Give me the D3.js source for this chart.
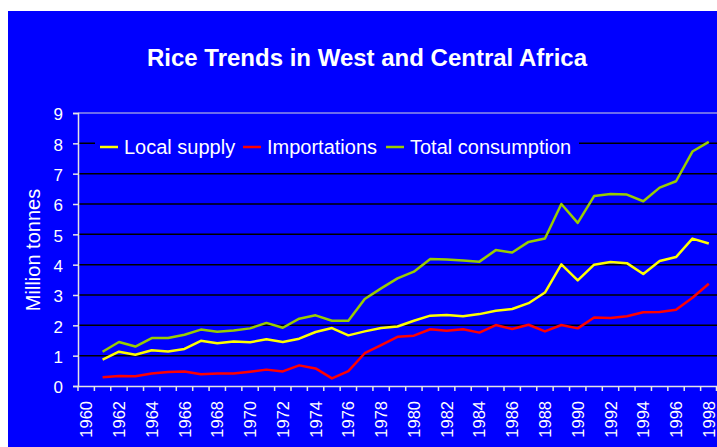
<!DOCTYPE html>
<html>
<head>
<meta charset="utf-8">
<script src="https://cdn.jsdelivr.net/npm/d3@7"></script>
<style>
  body { margin: 0; background: #fff; }
  svg { display: block; font-family: Arial, "Liberation Sans", sans-serif; }
</style>
</head>
<body>
<div id="chart"></div>
<script>
// categories on the x axis (1960 has no data, only a slot)
var categories = d3.range(1960, 1999);
var years = d3.range(1961, 1999);

var localSupply = [0.87, 1.13, 1.03, 1.18, 1.14, 1.22, 1.49, 1.41, 1.47, 1.44,
  1.54, 1.45, 1.56, 1.78, 1.91, 1.67, 1.80, 1.91, 1.96, 2.15,
  2.32, 2.34, 2.30, 2.37, 2.48, 2.54, 2.73, 3.08, 4.01, 3.48,
  4.00, 4.09, 4.05, 3.69, 4.12, 4.25, 4.86, 4.70];

var importations = [0.29, 0.33, 0.32, 0.41, 0.46, 0.48, 0.39, 0.41, 0.41, 0.47,
  0.54, 0.48, 0.68, 0.58, 0.25, 0.49, 1.08, 1.35, 1.62, 1.66,
  1.87, 1.82, 1.87, 1.76, 2.01, 1.88, 2.02, 1.80, 2.01, 1.90,
  2.26, 2.24, 2.30, 2.43, 2.44, 2.51, 2.91, 3.37];

var totalConsumption = [1.13, 1.45, 1.30, 1.58, 1.58, 1.69, 1.86, 1.79, 1.83, 1.90,
  2.08, 1.92, 2.22, 2.33, 2.15, 2.15, 2.87, 3.22, 3.55, 3.77,
  4.19, 4.17, 4.14, 4.10, 4.48, 4.40, 4.75, 4.86, 6.00, 5.38,
  6.26, 6.33, 6.31, 6.09, 6.54, 6.75, 7.73, 8.05];

var yTicks = [0, 1, 2, 3, 4, 5, 6, 7, 8, 9];
var xLabels = categories.filter(function(d) { return d % 2 === 0; });

var series = [
  {name: "Local supply", values: localSupply, color: "#ffff00"},
  {name: "Importations", values: importations, color: "#ff0000"},
  {name: "Total consumption", values: totalConsumption, color: "#99cc00"}
];

(function() {
var width = 717,
  height = 447;

var svg = d3.select("#chart")
  .append("svg")
  .attr("width", width)
  .attr("height", height)

svg.append("rect")
  .attr("x", 8)
  .attr("y", 11)
  .attr("width", width - 8)
  .attr("height", height - 11)
  .attr("fill", "#0000ff")

var plotLeft = 78, plotRight = 717, plotTop = 113, plotBottom = 386;

var x = d3.scaleBand().domain(categories).range([plotLeft, plotRight]).padding(0)
var y = d3.scaleLinear().domain([0, 9]).range([plotBottom, plotTop])

// title
svg.append("text")
  .attr("x", 367)
  .attr("y", 66)
  .attr("text-anchor", "middle")
  .attr("fill", "#fff")
  .attr("font-weight", "bold")
  .attr("font-size", 24)
  .text("Rice Trends in West and Central Africa")

// gridlines
svg.append("g")
  .selectAll("line")
  .data(yTicks.slice(1, -1))
  .enter().append("line")
  .attr("x1", plotLeft)
  .attr("x2", plotRight)
  .attr("y1", function(d) { return y(d); })
  .attr("y2", function(d) { return y(d); })
  .attr("stroke", "#000")
  .attr("stroke-width", 1.5)

// top border of plot
svg.append("line")
  .attr("x1", plotLeft).attr("x2", plotRight)
  .attr("y1", y(9)).attr("y2", y(9))
  .attr("stroke", "#d9d9d9")
  .attr("stroke-width", 1)

// lines
var line = d3.line()
  .x(function(d, i) { return x(years[i]) + x.bandwidth() / 2; })
  .y(function(d) { return y(d); })

svg.append("g")
  .selectAll("path")
  .data(series)
  .enter().append("path")
  .attr("d", function(s) { return line(s.values); })
  .attr("fill", "none")
  .attr("stroke", function(s) { return s.color; })
  .attr("stroke-width", 2.5)
  .attr("stroke-linejoin", "round")

// y axis
var yAxis = svg.append("g")
  .attr("transform", "translate(" + plotLeft + ",0)")
  .call(d3.axisLeft(y).tickValues(yTicks).tickSize(5).tickPadding(10))

yAxis.selectAll("path, line").attr("stroke", "#e6e6e6").attr("stroke-width", 1.5)
yAxis.selectAll("text")
  .attr("fill", "#fff")
  .attr("font-size", 17)
  .attr("font-family", "Arial, 'Liberation Sans', sans-serif")
  .attr("x", -15)
  .attr("dy", "0.4em")

// x axis
var xAxis = svg.append("g")
  .attr("transform", "translate(0," + plotBottom + ")")
  .call(d3.axisBottom(x).tickValues(xLabels).tickSize(0).tickSizeOuter(0))

xAxis.select(".domain").attr("stroke", "#e6e6e6").attr("stroke-width", 1.5)
xAxis.selectAll("text")
  .attr("fill", "#fff")
  .attr("font-size", 16.5)
  .attr("font-family", "Arial, 'Liberation Sans', sans-serif")
  .attr("transform", "rotate(-90)")
  .attr("text-anchor", "end")
  .attr("x", -15)
  .attr("y", 6)
  .attr("dy", 0)

// tick marks sit between categories
xAxis.selectAll(".sep")
  .data(categories.concat([1999]))
  .enter().append("line")
  .attr("class", "sep")
  .attr("x1", function(d) { return d === 1999 ? plotRight - 0.5 : x(d); })
  .attr("x2", function(d) { return d === 1999 ? plotRight - 0.5 : x(d); })
  .attr("y1", 0)
  .attr("y2", 5)
  .attr("stroke", "#e6e6e6")
  .attr("stroke-width", 1.5)

// y axis title
svg.append("text")
  .attr("transform", "translate(40,250) rotate(-90)")
  .attr("text-anchor", "middle")
  .attr("fill", "#fff")
  .attr("font-size", 20)
  .text("Million tonnes")

// legend
var legend = svg.append("g")

legend.append("rect")
  .attr("x", 95)
  .attr("y", 131)
  .attr("width", 484)
  .attr("height", 30)
  .attr("fill", "#0000ff")

var legendX = [100, 243, 386];

var items = legend.selectAll(".item")
  .data(series)
  .enter().append("g")
  .attr("class", "item")
  .attr("transform", function(d, i) { return "translate(" + legendX[i] + ",147)"; })

items.append("line")
  .attr("x1", 0).attr("x2", 18)
  .attr("stroke", function(d) { return d.color; })
  .attr("stroke-width", 2.5)

items.append("text")
  .attr("x", 24)
  .attr("y", 7)
  .attr("fill", "#fff")
  .attr("font-size", 20)
  .text(function(d) { return d.name; })
})();
</script>
</body>
</html>
